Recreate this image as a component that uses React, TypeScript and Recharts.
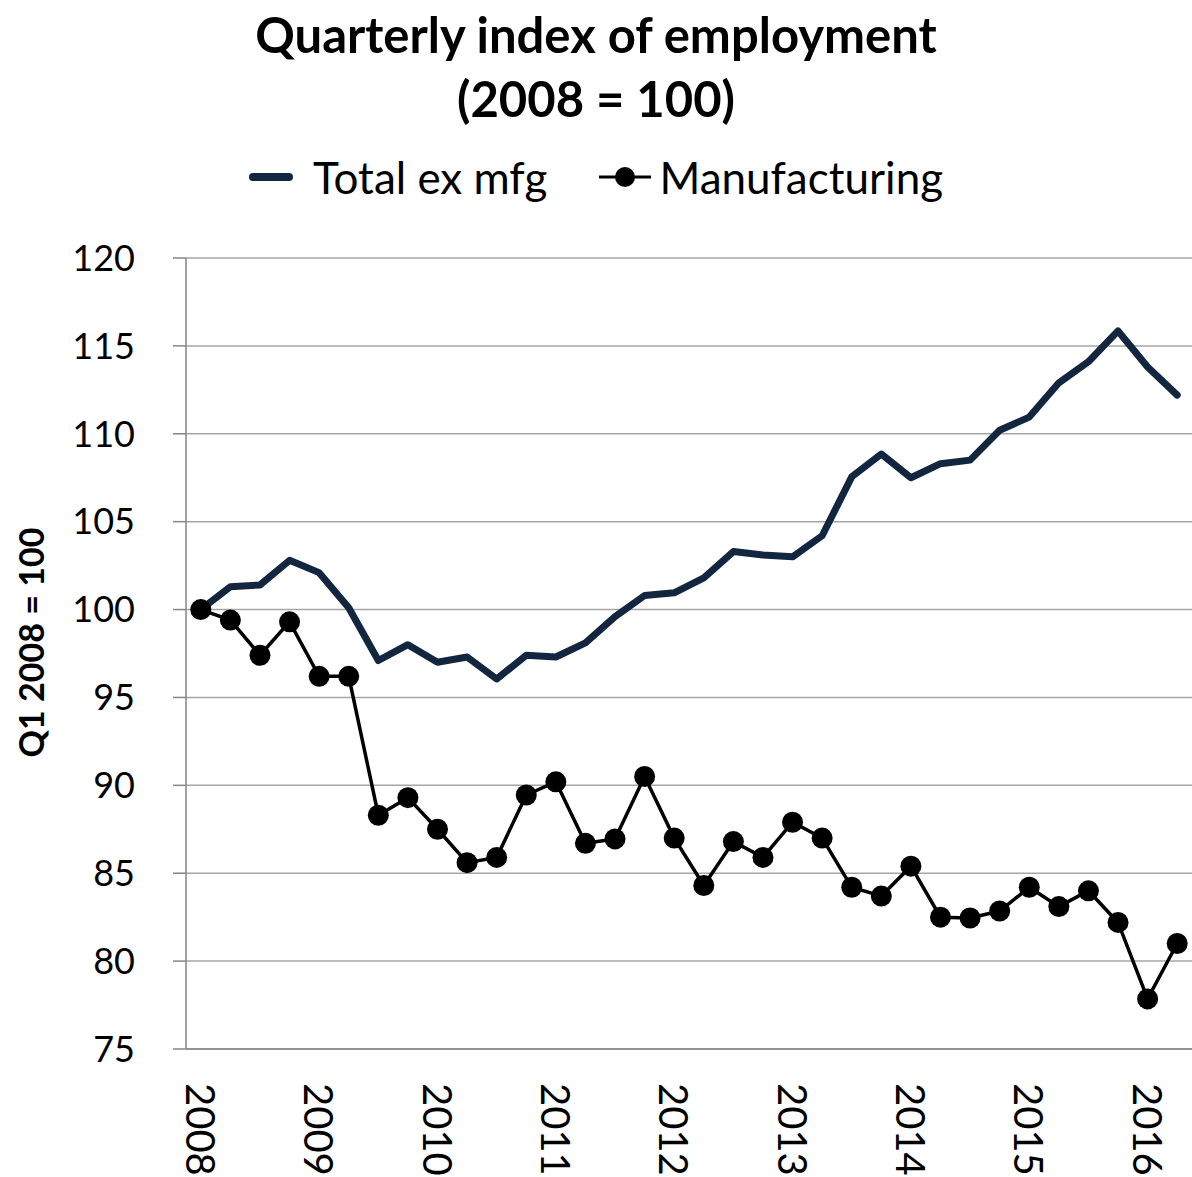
import { CartesianGrid, Label, Legend, Line, LineChart, XAxis, YAxis } from "recharts";

// quarterly observations, 2008 Q1 .. 2016 Q2
const quarters = [
  "2008 Q1", "2008 Q2", "2008 Q3", "2008 Q4",
  "2009 Q1", "2009 Q2", "2009 Q3", "2009 Q4",
  "2010 Q1", "2010 Q2", "2010 Q3", "2010 Q4",
  "2011 Q1", "2011 Q2", "2011 Q3", "2011 Q4",
  "2012 Q1", "2012 Q2", "2012 Q3", "2012 Q4",
  "2013 Q1", "2013 Q2", "2013 Q3", "2013 Q4",
  "2014 Q1", "2014 Q2", "2014 Q3", "2014 Q4",
  "2015 Q1", "2015 Q2", "2015 Q3", "2015 Q4",
  "2016 Q1", "2016 Q2",
];

const totalExMfg = [
  100, 101.3, 101.4, 102.8, 102.1, 100.1, 97.1, 98.0,
  97.0, 97.3, 96.05, 97.4, 97.3, 98.1, 99.6, 100.8,
  100.95, 101.8, 103.3, 103.1, 103.0, 104.2, 107.55, 108.85,
  107.5, 108.3, 108.5, 110.2, 110.95, 112.9, 114.1, 115.85,
  113.8, 112.2,
];

const manufacturing = [
  100, 99.4, 97.4, 99.3, 96.2, 96.2, 88.3, 89.3,
  87.5, 85.6, 85.9, 89.45, 90.2, 86.7, 86.95, 90.5,
  87.0, 84.3, 86.8, 85.9, 87.9, 87.0, 84.2, 83.7,
  85.4, 82.5, 82.45, 82.85, 84.2, 83.1, 84.0, 82.2,
  77.85, 81.0,
];

const years = ["2008", "2009", "2010", "2011", "2012", "2013", "2014", "2015", "2016"];
const yTicks = [75, 80, 85, 90, 95, 100, 105, 110, 115, 120];

const NAVY = "#13263f";
const GRID = "#a6a6a6";

const data = quarters.map((q, i) => ({
  idx: i,
  quarter: q,
  total: totalExMfg[i],
  mfg: manufacturing[i],
}));

// tick marks sit on the boundaries between quarters, year labels on the first quarter
const boundaryTicks = quarters.map((_, i) => i - 0.5).concat(quarters.length - 0.5);
const yearTicks = years.map((_, i) => i * 4);
const xDomain = [-0.5, quarters.length - 0.5];

function YearTick({ x, y, payload }: any) {
  const label = years[Math.round(payload.value / 4)];
  return (
    <text
      x={x}
      y={y}
      dx={18}
      transform={`rotate(90, ${x}, ${y})`}
      textAnchor="start"
      dominantBaseline="central"
      fontSize={40}
      fill="#000"
    >
      {label}
    </text>
  );
}

function YTitle({ viewBox }: any) {
  const cx = viewBox.x + 30;
  const cy = viewBox.y + viewBox.height / 2 - 11;
  return (
    <text
      x={cx}
      y={cy}
      transform={`rotate(-90, ${cx}, ${cy})`}
      textAnchor="middle"
      dominantBaseline="central"
      fontSize={34}
      fontWeight="bold"
      fill="#000"
    >
      Q1 2008 = 100
    </text>
  );
}

function LegendBox() {
  return (
    <div
      style={{
        display: "flex",
        justifyContent: "center",
        alignItems: "center",
        fontSize: 44,
        color: "#000",
        lineHeight: 1,
      }}
    >
      <svg width={44} height={20} style={{ marginRight: 20 }}>
        <line x1={4} y1={10} x2={40} y2={10} stroke={NAVY} strokeWidth={8} strokeLinecap="round" />
      </svg>
      <span>Total ex mfg</span>
      <svg width={56} height={26} style={{ marginLeft: 50, marginRight: 6 }}>
        <line x1={2} y1={13} x2={54} y2={13} stroke="#000" strokeWidth={3} />
        <circle cx={28} cy={13} r={10} fill="#000" />
      </svg>
      <span>Manufacturing</span>
    </div>
  );
}

export default function App() {
  return (
    <div
      style={{
        position: "absolute",
        left: 0,
        top: 0,
        width: 1192,
        height: 1177,
        fontFamily: "Lato, 'Open Sans', sans-serif",
        background: "#fff",
      }}
    >
      <div
        style={{
          position: "absolute",
          left: 0,
          top: 2,
          width: 1192,
          textAlign: "center",
          fontWeight: "bold",
          fontSize: 49,
          lineHeight: "64px",
          color: "#000",
        }}
      >
        <div>Quarterly index of employment</div>
        <div>(2008 = 100)</div>
      </div>
      <LineChart
        width={1192}
        height={1177}
        data={data}
        margin={{ top: 258, right: 0, bottom: 0, left: 0 }}
      >
        <CartesianGrid xAxisId="q" stroke={GRID} strokeWidth={1.5} vertical={false} />
        <XAxis
          xAxisId="q"
          type="number"
          dataKey="idx"
          domain={xDomain}
          ticks={boundaryTicks}
          allowDataOverflow
          interval={0}
          tick={false}
          tickSize={15}
          height={16}
          axisLine={{ stroke: "#868686", strokeWidth: 1.5 }}
          tickLine={{ stroke: "#868686", strokeWidth: 1.5 }}
        />
        <XAxis
          xAxisId="yr"
          type="number"
          dataKey="idx"
          domain={xDomain}
          ticks={yearTicks}
          allowDataOverflow
          interval={0}
          axisLine={false}
          tickLine={false}
          tickSize={0}
          tickMargin={0}
          height={112}
          tick={<YearTick />}
        />
        <YAxis
          type="number"
          domain={[75, 120]}
          ticks={yTicks}
          interval={0}
          width={186}
          tickSize={13}
          tickMargin={38}
          axisLine={{ stroke: "#868686", strokeWidth: 1.5 }}
          tickLine={{ stroke: "#868686", strokeWidth: 1.5 }}
          tick={{ fontSize: 36, fill: "#000" }}
        >
          <Label content={<YTitle />} />
        </YAxis>
        <Legend
          layout="horizontal"
          verticalAlign="middle"
          align="center"
          wrapperStyle={{ top: 155, left: 0, width: 1192 }}
          content={<LegendBox />}
        />
        {/* invisible carrier so the year-label axis gets the same data domain */}
        <Line
          xAxisId="yr"
          dataKey="mfg"
          stroke="none"
          strokeWidth={0}
          dot={false}
          activeDot={false}
          legendType="none"
          isAnimationActive={false}
        />
        <Line
          xAxisId="q"
          type="linear"
          dataKey="total"
          name="Total ex mfg"
          stroke={NAVY}
          strokeWidth={7}
          strokeLinejoin="round"
          strokeLinecap="round"
          dot={false}
          activeDot={false}
          isAnimationActive={false}
        />
        <Line
          xAxisId="q"
          type="linear"
          dataKey="mfg"
          name="Manufacturing"
          stroke="#000"
          strokeWidth={3.5}
          dot={{ r: 10.5, fill: "#000", stroke: "none" }}
          activeDot={false}
          isAnimationActive={false}
        />
      </LineChart>
    </div>
  );
}
